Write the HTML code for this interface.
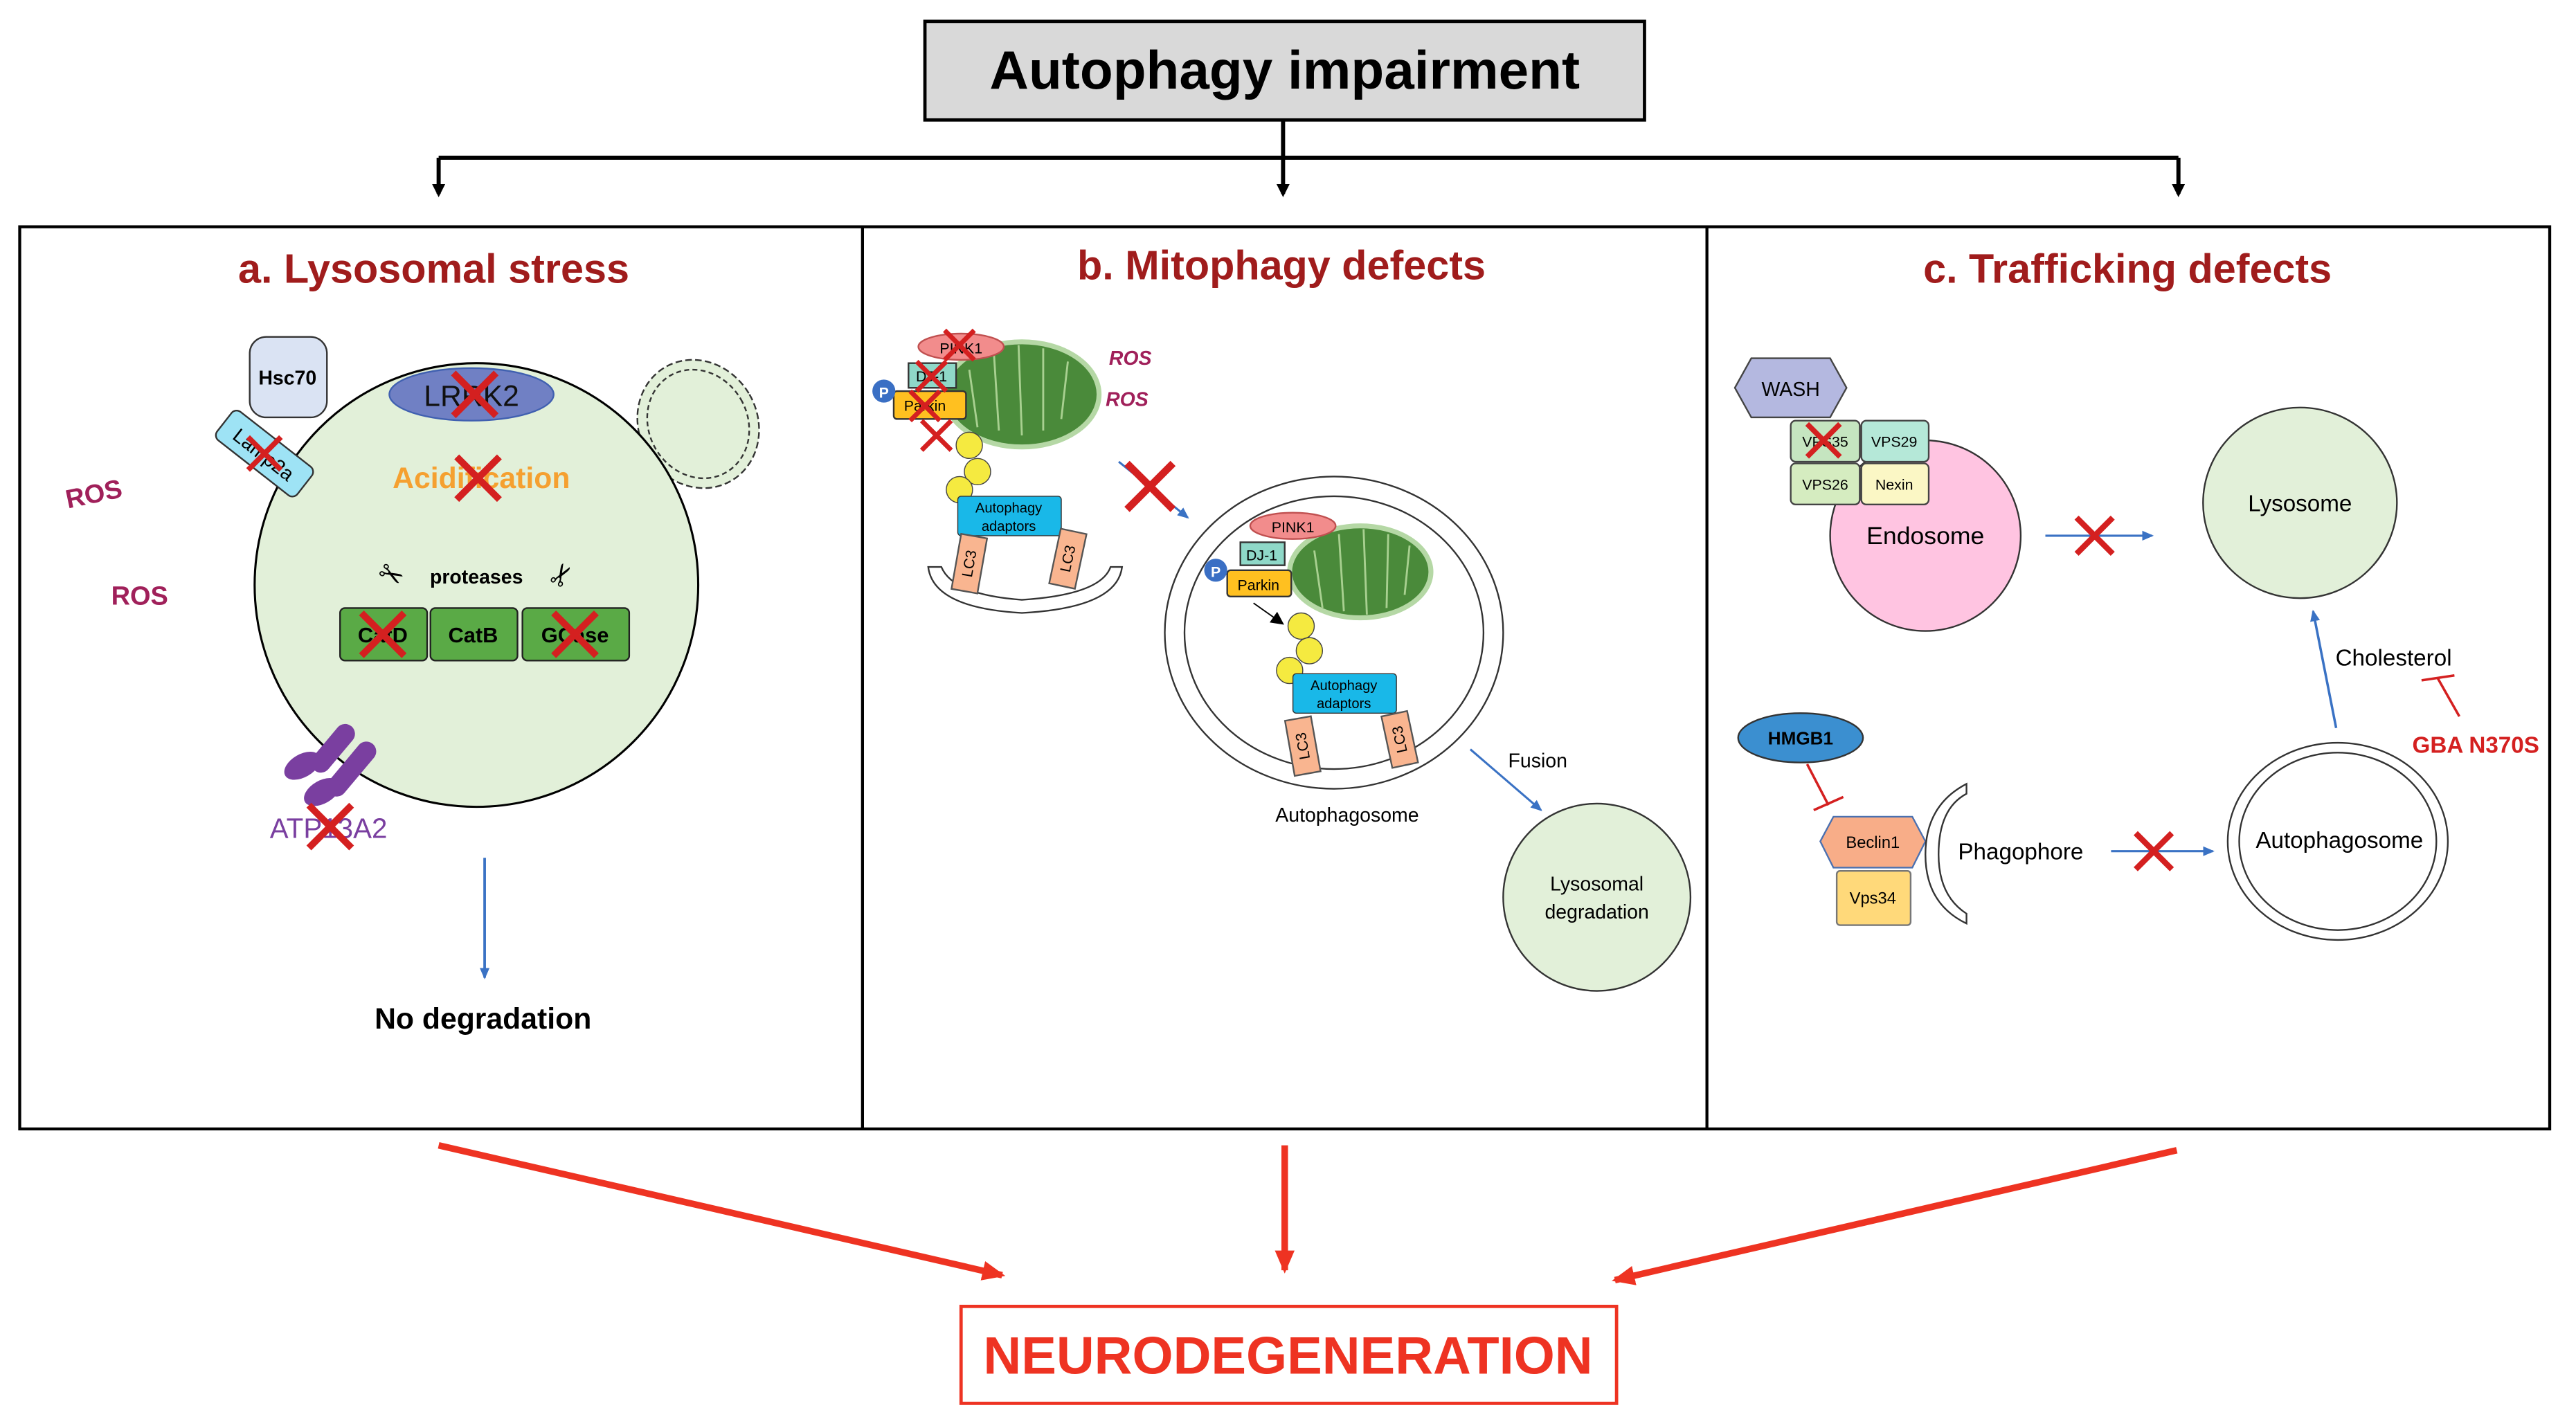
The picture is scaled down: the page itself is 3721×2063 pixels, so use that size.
<!DOCTYPE html>
<html><head><meta charset="utf-8"><style>
html,body{margin:0;padding:0;background:#fff;}
svg{display:block;}
text{font-family:"Liberation Sans",sans-serif;}
</style></head><body>
<svg width="3721" height="2063" viewBox="0 0 1568 869" preserveAspectRatio="none" xmlns="http://www.w3.org/2000/svg">
<defs>
<marker id="ak" markerWidth="8" markerHeight="8" refX="6" refY="4" orient="auto" markerUnits="userSpaceOnUse"><path d="M0,0 L8,4 L0,8 z" fill="#000"/></marker>
<marker id="ab" markerWidth="8" markerHeight="8" refX="6" refY="4" orient="auto" markerUnits="userSpaceOnUse"><path d="M0,1 L7,4 L0,7 z" fill="#3a72c4"/></marker>
<marker id="ar" markerWidth="16" markerHeight="16" refX="12" refY="8" orient="auto" markerUnits="userSpaceOnUse"><path d="M0,2 L14,8 L0,14 z" fill="#ee3322"/></marker>
<g id="x"><path d="M-10,-10 L10,10 M10,-10 L-10,10" stroke="#d42020" stroke-width="3.2"/></g>
</defs>

<!-- title -->
<rect x="563" y="13" width="438" height="60" fill="#d9d9d9" stroke="#000" stroke-width="2"/>
<text x="782" y="54" font-size="33" font-weight="bold" text-anchor="middle">Autophagy impairment</text>
<path d="M781,73 V96 M267,96 H1326" stroke="#000" stroke-width="2.5" fill="none"/>
<line x1="267" y1="96" x2="267" y2="118" stroke="#000" stroke-width="2.5" marker-end="url(#ak)"/>
<line x1="781" y1="96" x2="781" y2="118" stroke="#000" stroke-width="2.5" marker-end="url(#ak)"/>
<line x1="1326" y1="96" x2="1326" y2="118" stroke="#000" stroke-width="2.5" marker-end="url(#ak)"/>

<!-- panels -->
<rect x="12" y="138" width="1540" height="549" fill="none" stroke="#000" stroke-width="1.8"/>
<path d="M525,138 V687 M1039,138 V687" stroke="#000" stroke-width="1.8"/>
<g font-size="25" font-weight="bold" fill="#a01c1c" text-anchor="middle">
<text x="264" y="172">a. Lysosomal stress</text>
<text x="780" y="170">b. Mitophagy defects</text>
<text x="1295" y="172">c. Trafficking defects</text>
</g>

<!-- Panel a -->
<ellipse cx="425" cy="258" rx="36" ry="40" fill="#e2f0d9" stroke="#333" stroke-dasharray="4,2" transform="rotate(-30 425 258)"/>
<ellipse cx="425" cy="258" rx="30" ry="34" fill="none" stroke="#333" stroke-dasharray="3,2" transform="rotate(-30 425 258)"/>
<circle cx="290" cy="356" r="135" fill="#e2f0d9" stroke="#000" stroke-width="1.3"/>
<rect x="152" y="205" width="47" height="49" rx="10" fill="#dae3f3" stroke="#333"/>
<text x="175" y="234" font-size="12" font-weight="bold" text-anchor="middle">Hsc70</text>
<g transform="translate(161,276) rotate(38)">
<rect x="-31" y="-11" width="62" height="22" rx="4" fill="#9ee3f5" stroke="#333"/>
<text x="0" y="5" font-size="12" text-anchor="middle">Lamp2a</text>
</g>
<use href="#x" x="161" y="276"/>
<ellipse cx="287" cy="240" rx="50" ry="16" fill="#7080c4" stroke="#4060b0"/>
<text x="287" y="247" font-size="18" text-anchor="middle" fill="#111">LRRK2</text>
<use href="#x" transform="translate(289,240) scale(1.3)"/>
<text x="293" y="297" font-size="18" font-weight="bold" fill="#f5a030" text-anchor="middle">Acidification</text>
<use href="#x" transform="translate(291,291) scale(1.3)"/>
<text x="290" y="355" font-size="12" font-weight="bold" text-anchor="middle">proteases</text>
<text x="238" y="356" font-size="18" text-anchor="middle" transform="rotate(30 238 350)">✂</text>
<text x="342" y="356" font-size="18" text-anchor="middle" transform="rotate(-60 342 350)">✂</text>
<rect x="207" y="370" width="53" height="32" rx="3" fill="#5aaa46" stroke="#222"/>
<rect x="262" y="370" width="53" height="32" rx="3" fill="#5aaa46" stroke="#222"/>
<rect x="318" y="370" width="65" height="32" rx="3" fill="#5aaa46" stroke="#222"/>
<g font-size="13" font-weight="bold" text-anchor="middle">
<text x="233" y="391">CatD</text><text x="288" y="391">CatB</text><text x="350" y="391">GCase</text></g>
<use href="#x" transform="translate(233,386) scale(1.3)"/>
<use href="#x" transform="translate(350,386) scale(1.3)"/>
<text x="57" y="306" font-size="16" font-weight="bold" fill="#a0205a" text-anchor="middle" transform="rotate(-12 57 300)">ROS</text>
<text x="85" y="368" font-size="16" font-weight="bold" fill="#a0205a" text-anchor="middle">ROS</text>
<rect x="197" y="438" width="12" height="35" rx="6" fill="#7a3fa0" transform="rotate(40 203 455)"/>
<rect x="208" y="448" width="12" height="40" rx="6" fill="#7a3fa0" transform="rotate(40 214 468)"/>
<ellipse cx="184" cy="466" rx="12" ry="7" fill="#7a3fa0" transform="rotate(-30 184 466)"/>
<ellipse cx="196" cy="482" rx="12" ry="7" fill="#7a3fa0" transform="rotate(-30 196 482)"/>
<text x="200" y="510" font-size="17" fill="#7a3fa0" text-anchor="middle">ATP13A2</text>
<use href="#x" transform="translate(201,503) scale(1.3)"/>
<line x1="295" y1="522" x2="295" y2="595" stroke="#3a72c4" stroke-width="1.6" marker-end="url(#ab)"/>
<text x="294" y="626" font-size="18" font-weight="bold" text-anchor="middle">No degradation</text>

<!-- Panel b -->
<ellipse cx="622" cy="240" rx="47" ry="32" fill="#4a8a3a" stroke="#b5d8a5" stroke-width="3"/>
<path d="M590,225 L595,260 M605,215 L608,262 M620,210 L622,265 M635,212 L635,262 M650,220 L646,255" stroke="#a8d090" stroke-width="1.2"/>
<ellipse cx="585" cy="211" rx="26" ry="8" fill="#f28c8c" stroke="#c05050"/>
<text x="585" y="215" font-size="9" text-anchor="middle">PINK1</text>
<rect x="553" y="221" width="29" height="15" fill="#8fd8c8" stroke="#333"/>
<text x="567" y="232" font-size="9" text-anchor="middle">DJ-1</text>
<rect x="544" y="238" width="44" height="17" rx="2" fill="#ffc020" stroke="#333"/>
<text x="563" y="250" font-size="9" text-anchor="middle">Parkin</text>
<circle cx="538" cy="238" r="7" fill="#3a6fc4"/><text x="538" y="242" font-size="9" font-weight="bold" fill="#fff" text-anchor="middle">P</text>
<use href="#x" transform="translate(584,210) scale(0.9)"/>
<use href="#x" transform="translate(567,229) scale(0.9)"/>
<use href="#x" transform="translate(563,247) scale(0.9)"/>
<use href="#x" transform="translate(570,265) scale(0.9)"/>
<circle cx="590" cy="271" r="8" fill="#f5ea40" stroke="#444" stroke-width=".6"/>
<circle cx="595" cy="287" r="8" fill="#f5ea40" stroke="#444" stroke-width=".6"/>
<circle cx="584" cy="298" r="8" fill="#f5ea40" stroke="#444" stroke-width=".6"/>
<rect x="583" y="302" width="63" height="24" rx="2" fill="#19b8e8" stroke="#333" stroke-width=".6"/>
<text x="614" y="312" font-size="8.5" text-anchor="middle">Autophagy</text><text x="614" y="323" font-size="8.5" text-anchor="middle">adaptors</text>
<path d="M565,345 L573,345 Q580,362 622,365 Q670,362 676,345 L683,345 Q680,370 622,373 Q568,370 565,345 Z" fill="#fff" stroke="#333"/>
<g transform="translate(590,343) rotate(10)"><rect x="-8" y="-17" width="16" height="34" fill="#f9b590" stroke="#555"/><text x="0" y="3" font-size="9" text-anchor="middle" transform="rotate(-90)">LC3</text></g>
<g transform="translate(650,340) rotate(12)"><rect x="-8" y="-17" width="16" height="34" fill="#f9b590" stroke="#555"/><text x="0" y="3" font-size="9" text-anchor="middle" transform="rotate(-90)">LC3</text></g>
<text x="688" y="222" font-size="12" font-style="italic" font-weight="bold" fill="#a0205a" text-anchor="middle">ROS</text>
<text x="686" y="247" font-size="12" font-style="italic" font-weight="bold" fill="#a0205a" text-anchor="middle">ROS</text>
<line x1="681" y1="281" x2="723" y2="315" stroke="#3a72c4" stroke-width="1.3" marker-end="url(#ab)"/>
<use href="#x" transform="translate(700,296) scale(1.4)"/>
<ellipse cx="812" cy="385" rx="103" ry="95" fill="#fff" stroke="#333"/>
<ellipse cx="812" cy="385" rx="91" ry="83" fill="#fff" stroke="#333"/>
<ellipse cx="828" cy="348" rx="43" ry="28" fill="#4a8a3a" stroke="#b5d8a5" stroke-width="3"/>
<path d="M800,335 L805,370 M815,325 L818,372 M830,322 L832,374 M845,325 L844,370 M858,332 L855,362" stroke="#a8d090" stroke-width="1.2"/>
<ellipse cx="787" cy="320" rx="26" ry="8" fill="#f28c8c" stroke="#c05050"/>
<text x="787" y="324" font-size="9" text-anchor="middle">PINK1</text>
<rect x="755" y="330" width="27" height="14" fill="#8fd8c8" stroke="#333"/>
<text x="768" y="341" font-size="9" text-anchor="middle">DJ-1</text>
<rect x="747" y="347" width="39" height="16" rx="2" fill="#ffc020" stroke="#333"/>
<text x="766" y="359" font-size="9" text-anchor="middle">Parkin</text>
<circle cx="740" cy="347" r="7" fill="#3a6fc4"/><text x="740" y="351" font-size="9" font-weight="bold" fill="#fff" text-anchor="middle">P</text>
<line x1="763" y1="367" x2="780" y2="379" stroke="#000" stroke-width=".8" marker-end="url(#ak)"/>
<circle cx="792" cy="381" r="8" fill="#f5ea40" stroke="#444" stroke-width=".6"/>
<circle cx="797" cy="396" r="8" fill="#f5ea40" stroke="#444" stroke-width=".6"/>
<circle cx="785" cy="408" r="8" fill="#f5ea40" stroke="#444" stroke-width=".6"/>
<rect x="787" y="410" width="63" height="24" rx="2" fill="#19b8e8" stroke="#333" stroke-width=".6"/>
<text x="818" y="420" font-size="8.5" text-anchor="middle">Autophagy</text><text x="818" y="431" font-size="8.5" text-anchor="middle">adaptors</text>
<g transform="translate(793,454) rotate(-10)"><rect x="-8" y="-17" width="16" height="34" fill="#f9b590" stroke="#555"/><text x="0" y="3" font-size="9" text-anchor="middle" transform="rotate(-90)">LC3</text></g>
<g transform="translate(852,450) rotate(-12)"><rect x="-8" y="-16" width="16" height="32" fill="#f9b590" stroke="#555"/><text x="0" y="3" font-size="9" text-anchor="middle" transform="rotate(-90)">LC3</text></g>
<text x="820" y="500" font-size="12" text-anchor="middle">Autophagosome</text>
<line x1="895" y1="456" x2="938" y2="493" stroke="#3a72c4" stroke-width="1.3" marker-end="url(#ab)"/>
<text x="936" y="467" font-size="12" text-anchor="middle">Fusion</text>
<circle cx="972" cy="546" r="57" fill="#e2f0d9" stroke="#333"/>
<text x="972" y="542" font-size="12" text-anchor="middle">Lysosomal</text>
<text x="972" y="559" font-size="12" text-anchor="middle">degradation</text>

<!-- Panel c -->
<circle cx="1172" cy="326" r="58" fill="#ffc4e1" stroke="#333"/>
<text x="1172" y="331" font-size="15" text-anchor="middle">Endosome</text>
<polygon points="1056,236 1066,218 1114,218 1124,236 1114,254 1066,254" fill="#b4b8e0" stroke="#444"/>
<text x="1090" y="241" font-size="12" text-anchor="middle">WASH</text>
<rect x="1090" y="256" width="42" height="25" rx="3" fill="#c5e5c0" stroke="#444"/>
<rect x="1133" y="256" width="41" height="25" rx="3" fill="#b5e8d8" stroke="#444"/>
<rect x="1090" y="282" width="42" height="25" rx="3" fill="#d5ecc0" stroke="#444"/>
<rect x="1133" y="282" width="41" height="25" rx="3" fill="#fbf7c5" stroke="#444"/>
<g font-size="9" text-anchor="middle"><text x="1111" y="272">VPS35</text><text x="1153" y="272">VPS29</text><text x="1111" y="298">VPS26</text><text x="1153" y="298">Nexin</text></g>
<use href="#x" transform="translate(1110,268) scale(1)"/>
<line x1="1245" y1="326" x2="1310" y2="326" stroke="#3a72c4" stroke-width="1.3" marker-end="url(#ab)"/>
<use href="#x" transform="translate(1275,326) scale(1.1)"/>
<ellipse cx="1400" cy="306" rx="59" ry="58" fill="#e2f0d9" stroke="#333"/>
<text x="1400" y="311" font-size="14" text-anchor="middle">Lysosome</text>
<line x1="1422" y1="443" x2="1408" y2="372" stroke="#3a72c4" stroke-width="1.5" marker-end="url(#ab)"/>
<text x="1457" y="405" font-size="14" text-anchor="middle">Cholesterol</text>
<path d="M1497,436 L1484,413 M1474,414 L1494,411" stroke="#d42020" stroke-width="1.5"/>
<text x="1507" y="458" font-size="14" font-weight="bold" fill="#d42020" text-anchor="middle">GBA N370S</text>
<ellipse cx="1423" cy="512" rx="67" ry="60" fill="#fff" stroke="#333"/>
<ellipse cx="1423" cy="512" rx="60" ry="54" fill="#fff" stroke="#333"/>
<text x="1424" y="516" font-size="14" text-anchor="middle">Autophagosome</text>
<ellipse cx="1096" cy="449" rx="38" ry="15" fill="#3b8fd0" stroke="#333"/>
<text x="1096" y="453" font-size="11" font-weight="bold" text-anchor="middle">HMGB1</text>
<path d="M1100,465 L1113,490 M1104,493 L1122,485" stroke="#d42020" stroke-width="1.5"/>
<polygon points="1108,512 1116,497 1164,497 1172,512 1164,528 1116,528" fill="#f8ad88" stroke="#4a70b0"/>
<text x="1140" y="516" font-size="10" text-anchor="middle">Beclin1</text>
<rect x="1118" y="530" width="45" height="33" rx="2" fill="#ffd97a" stroke="#777"/>
<text x="1140" y="550" font-size="10" text-anchor="middle">Vps34</text>
<path d="M1197,477 Q1172,490 1172,520 Q1172,550 1197,562 L1197,556 Q1180,545 1180,520 Q1180,492 1197,483 Z" fill="#fff" stroke="#333"/>
<text x="1230" y="523" font-size="14" text-anchor="middle">Phagophore</text>
<line x1="1285" y1="518" x2="1347" y2="518" stroke="#3a72c4" stroke-width="1.3" marker-end="url(#ab)"/>
<use href="#x" transform="translate(1311,518) scale(1.1)"/>

<!-- bottom -->
<g stroke="#ee3322" stroke-width="4" fill="none">
<line x1="267" y1="697" x2="610" y2="776" marker-end="url(#ar)"/>
<line x1="782" y1="697" x2="782" y2="773" marker-end="url(#ar)"/>
<line x1="1325" y1="700" x2="983" y2="779" marker-end="url(#ar)"/>
</g>
<rect x="585" y="795" width="399" height="59" fill="#fff" stroke="#ee3322" stroke-width="2"/>
<text x="784" y="836" font-size="32" font-weight="bold" fill="#ee3322" text-anchor="middle">NEURODEGENERATION</text>
</svg>
</body></html>
